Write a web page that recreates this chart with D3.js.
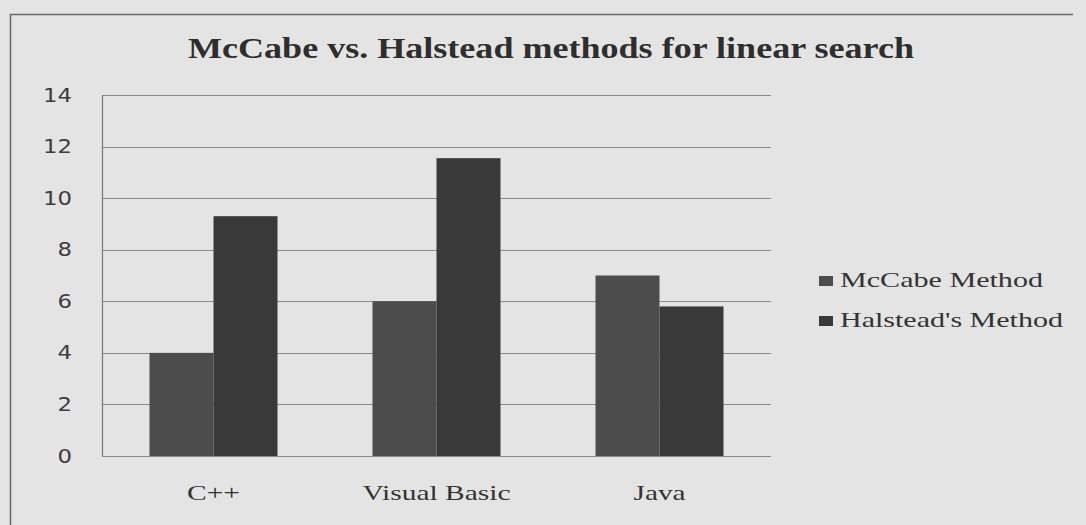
<!DOCTYPE html>
<html>
<head>
<meta charset="utf-8">
<script src="https://cdn.jsdelivr.net/npm/d3@7"></script>
<style>
  body { margin: 0; background: #e4e4e4; }
  svg { display: block; }
</style>
</head>
<body>
<div id="chart"></div>
<script>
// chart data
var categories = ["C++", "Visual Basic", "Java"];
var seriesNames = ["McCabe Method", "Halstead's Method"];
var mccabe = [4, 6, 7];
var halstead = [9.3, 11.55, 5.8];
var yTicks = [0, 2, 4, 6, 8, 10, 12, 14];

var W = 1086, H = 525;
var plot = {left: 102, right: 771, top: 95, bottom: 456};
var stretch = 1.2; // the original picture is a bit wider than tall

var svg = d3.select("#chart").append("svg")
    .attr("width", W)
    .attr("height", H);

svg.append("rect").attr("width", W).attr("height", H).attr("fill", "#e4e4e4");

// outer frame (top + left edge visible)
svg.append("path")
    .attr("d", "M10.5," + H + "V14.5H1073")
    .attr("fill", "none")
    .attr("stroke", "#6a6a6a")
    .attr("stroke-width", 1.5);

// title
svg.append("text")
    .attr("x", 188)
    .attr("y", 58)
    .attr("font-family", "Liberation Serif, Times New Roman, serif")
    .attr("font-weight", "bold")
    .attr("font-size", 30)
    .attr("fill", "#2e2e2e")
    .attr("textLength", 726)
    .attr("lengthAdjust", "spacingAndGlyphs")
    .text("McCabe vs. Halstead methods for linear search");

var x = d3.scaleBand()
    .domain(categories)
    .range([plot.left, plot.right])
    .paddingInner(0.426)
    .paddingOuter(0.213);

var xs = d3.scaleBand()
    .domain(seriesNames)
    .range([0, x.bandwidth()]);

var y = d3.scaleLinear()
    .domain([0, 14])
    .range([plot.bottom, plot.top]);

// gridlines
svg.append("g")
  .selectAll("line")
  .data(yTicks.slice(1))
  .join("line")
    .attr("x1", plot.left)
    .attr("x2", plot.right)
    .attr("y1", function(d) { return Math.round(y(d)) + 0.5; })
    .attr("y2", function(d) { return Math.round(y(d)) + 0.5; })
    .attr("stroke", "#8a8a8a")
    .attr("stroke-width", 1.2);

// bars
var colors = ["#4c4c4c", "#393939"];
var rows = categories.map(function(c, i) {
  return [{cat: c, s: 0, v: mccabe[i]}, {cat: c, s: 1, v: halstead[i]}];
});

svg.append("g")
  .selectAll("g")
  .data(rows)
  .join("g")
    .attr("transform", function(d) { return "translate(" + x(d[0].cat) + ",0)"; })
  .selectAll("rect")
  .data(function(d) { return d; })
  .join("rect")
    .attr("x", function(d) { return xs(seriesNames[d.s]); })
    .attr("width", xs.bandwidth())
    .attr("y", function(d) { return y(d.v); })
    .attr("height", function(d) { return y(0) - y(d.v); })
    .attr("fill", function(d) { return colors[d.s]; });

// y axis
var yAxis = svg.append("g")
    .attr("transform", "translate(" + plot.left + ",0)")
    .call(d3.axisLeft(y).tickValues(yTicks).tickSize(0).tickPadding(0));
yAxis.select(".domain")
    .attr("stroke", "#7a7a7a")
    .attr("stroke-width", 1.2);
yAxis.selectAll("text")
    .attr("x", -30 / stretch)
    .attr("transform", "scale(" + stretch + ",1)")
    .attr("font-family", "DejaVu Sans, Verdana, sans-serif")
    .attr("font-size", 19)
    .attr("fill", "#3c3c3c");

// x axis line
svg.append("line")
    .attr("x1", plot.left)
    .attr("x2", plot.right)
    .attr("y1", y(0) + 0.5)
    .attr("y2", y(0) + 0.5)
    .attr("stroke", "#8a8a8a")
    .attr("stroke-width", 1.2);

// category labels
var labelWidths = [53, 148, 52];
svg.append("g")
  .selectAll("text")
  .data(categories)
  .join("text")
    .attr("x", function(d, i) { return x(d) + x.bandwidth() / 2 - labelWidths[i] / 2; })
    .attr("y", 500)
    .attr("font-family", "Liberation Serif, Times New Roman, serif")
    .attr("font-size", 22)
    .attr("fill", "#333")
    .attr("textLength", function(d, i) { return labelWidths[i]; })
    .attr("lengthAdjust", "spacingAndGlyphs")
    .text(function(d) { return d; });

// legend
var legendWidths = [203, 223];
var legend = svg.append("g")
  .selectAll("g")
  .data(seriesNames)
  .join("g")
    .attr("transform", function(d, i) { return "translate(819," + (276 + i * 40) + ")"; });
legend.append("rect")
    .attr("width", 14)
    .attr("height", 10)
    .attr("fill", function(d, i) { return colors[i]; });
legend.append("text")
    .attr("x", 21)
    .attr("y", 11)
    .attr("font-family", "Liberation Serif, Times New Roman, serif")
    .attr("font-size", 21)
    .attr("fill", "#333")
    .attr("textLength", function(d, i) { return legendWidths[i]; })
    .attr("lengthAdjust", "spacingAndGlyphs")
    .text(function(d) { return d; });
</script>
</body>
</html>
